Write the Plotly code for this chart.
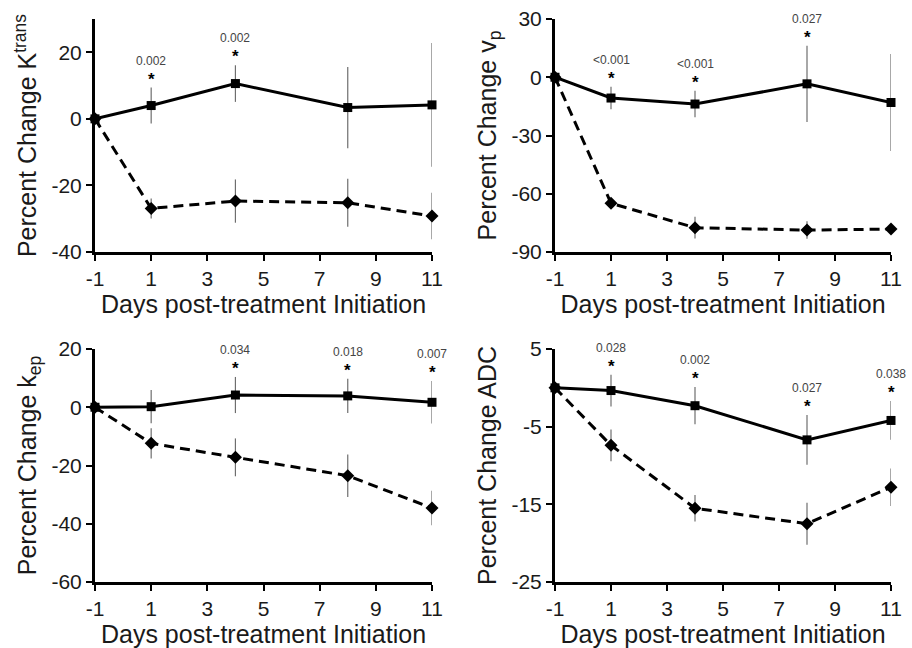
import plotly.graph_objects as go

days = [-1, 1, 4, 8, 11]
x_ticks = [-1, 1, 3, 5, 7, 9, 11]

ktrans_solid = [0, 4.0, 10.6, 3.4, 4.2]
ktrans_solid_err = [0, 5.4, 5.5, 12.2, 18.6]
ktrans_dashed = [0, -26.9, -24.7, -25.2, -29.2]
ktrans_dashed_err = [0, 3.0, 6.5, 7.2, 7.0]

vp_solid = [0, -10.7, -13.8, -3.4, -13.0]
vp_solid_err = [0, 5.8, 6.8, 19.6, 25.0]
vp_dashed = [0, -64.9, -77.5, -78.7, -78.2]
vp_dashed_err = [0, 1.5, 5.6, 4.5, 1.0]

kep_solid = [0, 0.2, 4.2, 3.9, 1.7]
kep_solid_err = [0, 5.7, 6.2, 5.9, 7.3]
kep_dashed = [0, -12.4, -17.2, -23.5, -34.6]
kep_dashed_err = [0, 5.2, 6.5, 7.3, 5.9]

adc_solid = [0, -0.35, -2.3, -6.7, -4.2]
adc_solid_err = [0, 2.05, 2.4, 3.2, 2.5]
adc_dashed = [0, -7.4, -15.5, -17.5, -12.8]
adc_dashed_err = [0, 2.05, 1.7, 2.7, 2.4]

ktrans_p = {1: "0.002", 4: "0.002"}
vp_p = {1: "<0.001", 4: "<0.001", 8: "0.027"}
kep_p = {4: "0.034", 8: "0.018", 11: "0.007"}
adc_p = {1: "0.028", 4: "0.002", 8: "0.027", 11: "0.038"}

panels = [
    dict(title="Percent Change K<sup>trans</sup>", solid=ktrans_solid, serr=ktrans_solid_err,
         dashed=ktrans_dashed, derr=ktrans_dashed_err, pv=ktrans_p,
         yrange=[-40, 30], yticks=[-40, -20, 0, 20]),
    dict(title="Percent Change v<sub>p</sub>", solid=vp_solid, serr=vp_solid_err,
         dashed=vp_dashed, derr=vp_dashed_err, pv=vp_p,
         yrange=[-90, 30], yticks=[-90, -60, -30, 0, 30]),
    dict(title="Percent Change k<sub>ep</sub>", solid=kep_solid, serr=kep_solid_err,
         dashed=kep_dashed, derr=kep_dashed_err, pv=kep_p,
         yrange=[-60, 20], yticks=[-60, -40, -20, 0, 20]),
    dict(title="Percent Change ADC", solid=adc_solid, serr=adc_solid_err,
         dashed=adc_dashed, derr=adc_dashed_err, pv=adc_p,
         yrange=[-25, 5], yticks=[-25, -15, -5, 5]),
]

W, H = 912, 648
xdoms = [[95 / W, 432 / W], [555 / W, 891 / W]]
ydoms = [[1 - 252 / H, 1 - 19 / H], [1 - 582 / H, 1 - 349 / H]]

FONT = "Arial, Liberation Sans, sans-serif"
fig = go.Figure()
layout = dict(width=W, height=H, margin=dict(l=0, r=0, t=0, b=0),
              paper_bgcolor="white", plot_bgcolor="white", showlegend=False,
              font=dict(family=FONT, color="#1a1a1a"))
annotations = []

for i, p in enumerate(panels):
    n = i + 1
    xa = "x" if n == 1 else f"x{n}"
    ya = "y" if n == 1 else f"y{n}"
    col, row = i % 2, i // 2
    fig.add_trace(go.Scatter(
        x=days, y=p["dashed"], xaxis=xa, yaxis=ya, mode="lines+markers",
        line=dict(color="black", width=3, dash="10px,6px"),
        marker=dict(symbol="diamond", size=10, color="black"),
        error_y=dict(type="data", array=p["derr"], visible=True, color="#6e6e6e",
                     thickness=1.2, width=0),
        cliponaxis=False))
    fig.add_trace(go.Scatter(
        x=days, y=p["solid"], xaxis=xa, yaxis=ya, mode="lines+markers",
        line=dict(color="black", width=3),
        marker=dict(symbol="square", size=9, color="black"),
        error_y=dict(type="data", array=p["serr"], visible=True, color="#6e6e6e",
                     thickness=1.2, width=0),
        cliponaxis=False))
    axkey_x = "xaxis" if n == 1 else f"xaxis{n}"
    axkey_y = "yaxis" if n == 1 else f"yaxis{n}"
    layout[axkey_x] = dict(
        domain=xdoms[col], anchor=ya, range=[-1, 11], tickvals=x_ticks,
        ticktext=[str(v) for v in x_ticks], showgrid=False, zeroline=False,
        showline=True, linecolor="black", linewidth=3, ticks="outside",
        ticklen=6, tickwidth=2, tickcolor="black",
        tickfont=dict(size=21, family=FONT, color="#1a1a1a"),
        title=dict(text="Days post-treatment Initiation", standoff=2,
                   font=dict(size=25, family=FONT, color="#1a1a1a")),
        automargin=False, fixedrange=True)
    layout[axkey_y] = dict(
        domain=ydoms[row], anchor=xa, range=p["yrange"], tickvals=p["yticks"],
        ticktext=[str(v) for v in p["yticks"]], showgrid=False, zeroline=False,
        showline=True, linecolor="black", linewidth=3, ticks="outside",
        ticklen=6, tickwidth=2, tickcolor="black",
        tickfont=dict(size=21, family=FONT, color="#1a1a1a"),
        title=dict(text=p["title"], standoff=8,
                   font=dict(size=25, family=FONT, color="#1a1a1a")),
        automargin=False, fixedrange=True)
    for d, txt in p["pv"].items():
        k = days.index(d)
        top = p["solid"][k] + p["serr"][k]
        annotations.append(dict(x=d, y=top, xref=xa, yref=ya, text="<b>*</b>", showarrow=False,
                                xanchor="center", yanchor="bottom", yshift=-3,
                                font=dict(size=17, family=FONT, color="black")))
        annotations.append(dict(x=d, y=top, xref=xa, yref=ya, text=txt, showarrow=False,
                                xanchor="center", yanchor="bottom", yshift=18,
                                font=dict(size=12, family=FONT, color="#444")))

layout["annotations"] = annotations
fig.update_layout(**layout)
fig.write_html("out.html", config={"displayModeBar": False},
               post_script="document.body.style.margin='0';")
